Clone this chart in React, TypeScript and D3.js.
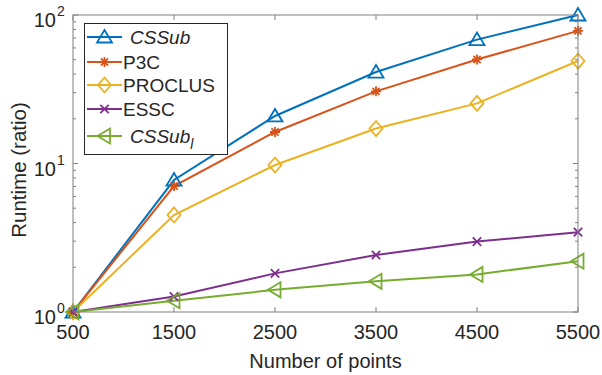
import React from "react";
import * as d3 from "d3";

const xValues = [500, 1500, 2500, 3500, 4500, 5500];
const xTickLabels = ["500", "1500", "2500", "3500", "4500", "5500"];
const yTickExponents = [0, 1, 2];

const seriesNames = ["CSSub", "P3C", "PROCLUS", "ESSC", "CSSub_l"];
const cssub = [1, 7.74, 20.9, 41.3, 68.3, 100];
const p3c = [1, 7.05, 16.3, 30.6, 50.2, 78.2];
const proclus = [1, 4.5, 9.77, 17.2, 25.4, 49];
const essc = [1, 1.27, 1.82, 2.42, 2.98, 3.45];
const cssubL = [1, 1.19, 1.41, 1.61, 1.79, 2.2];

const seriesValues = [cssub, p3c, proclus, essc, cssubL];
const colors = ["#0072BD", "#D95319", "#EDB120", "#7E2F8E", "#77AC30"];
const markers = ["triUp", "asterisk", "diamond", "cross", "triLeft"];

const W = 602;
const H = 375;
const L = 73;
const R = 578;
const T = 15;
const B = 312;
const FONT = "'Liberation Sans', Arial, Helvetica, sans-serif";
const TXT = "#262626";
const AX = "#808080";

function Marker({ kind, x, y, color }: { kind: string; x: number; y: number; color: string }) {
  const sw = 1.8;
  if (kind === "triUp") {
    return <path d={`M${x - 7.5},${y + 5.5}L${x + 7.5},${y + 5.5}L${x},${y - 7}Z`} fill="none" stroke={color} strokeWidth={sw} />;
  }
  if (kind === "triLeft") {
    return <path d={`M${x - 7},${y}L${x + 5.5},${y - 7.5}L${x + 5.5},${y + 7.5}Z`} fill="none" stroke={color} strokeWidth={sw} />;
  }
  if (kind === "diamond") {
    return <path d={`M${x},${y - 7.5}L${x + 6.5},${y}L${x},${y + 7.5}L${x - 6.5},${y}Z`} fill="none" stroke={color} strokeWidth={sw} />;
  }
  if (kind === "asterisk") {
    const r = 5;
    const d = r * 0.72;
    return (
      <path
        d={`M${x - r},${y}L${x + r},${y}M${x},${y - r}L${x},${y + r}M${x - d},${y - d}L${x + d},${y + d}M${x - d},${y + d}L${x + d},${y - d}`}
        stroke={color}
        strokeWidth={sw}
      />
    );
  }
  const r = 4.2;
  return <path d={`M${x - r},${y - r}L${x + r},${y + r}M${x - r},${y + r}L${x + r},${y - r}`} stroke={color} strokeWidth={sw} />;
}

export default function App() {
  const x = d3.scaleLinear().domain([500, 5500]).range([L, R]);
  const y = d3.scaleLog().domain([1, 100]).range([B, T]);
  const line = d3
    .line<number>()
    .x((_, i) => x(xValues[i]))
    .y((v) => y(v));

  const minor: number[] = [];
  for (let e = 0; e < 2; e++) {
    for (let m = 2; m <= 9; m++) minor.push(m * Math.pow(10, e));
  }

  const legendRows = [37, 62, 85, 109, 136];

  return (
    <svg width={W} height={H} style={{ position: "absolute", left: 0, top: 0, background: "#fff" }} fontFamily={FONT}>
      <rect x={0} y={0} width={W} height={H} fill="#fff" />
      {xValues.map((v) => (
        <g key={"xt" + v}>
          <line x1={x(v)} x2={x(v)} y1={B} y2={B - 5} stroke={AX} />
          <line x1={x(v)} x2={x(v)} y1={T} y2={T + 5} stroke={AX} />
        </g>
      ))}
      {yTickExponents.map((e) => (
        <g key={"yt" + e}>
          <line x1={L} x2={L + 5} y1={y(Math.pow(10, e))} y2={y(Math.pow(10, e))} stroke={AX} />
          <line x1={R} x2={R - 5} y1={y(Math.pow(10, e))} y2={y(Math.pow(10, e))} stroke={AX} />
        </g>
      ))}
      {minor.map((v) => (
        <g key={"ym" + v}>
          <line x1={L} x2={L + 3} y1={y(v)} y2={y(v)} stroke={AX} />
          <line x1={R} x2={R - 3} y1={y(v)} y2={y(v)} stroke={AX} />
        </g>
      ))}
      {seriesValues.map((vals, si) => (
        <path key={"l" + si} d={line(vals) || ""} fill="none" stroke={colors[si]} strokeWidth={2} />
      ))}
      {seriesValues.map((vals, si) =>
        vals.map((v, i) => <Marker key={"m" + si + "-" + i} kind={markers[si]} x={x(xValues[i])} y={y(v)} color={colors[si]} />)
      )}
      <rect x={L} y={T} width={R - L} height={B - T} fill="none" stroke={AX} strokeWidth={1} />
      {xValues.map((v, i) => (
        <text key={"xl" + v} x={x(v)} y={339} textAnchor="middle" fontSize={20} fill={TXT}>
          {xTickLabels[i]}
        </text>
      ))}
      {yTickExponents.map((e) => {
        const ty = y(Math.pow(10, e));
        return (
          <g key={"yl" + e}>
            <text x={56} y={ty + 12} textAnchor="end" fontSize={20} fill={TXT}>
              10
            </text>
            <text x={57} y={ty + 1} fontSize={14} fill={TXT}>
              {String(e)}
            </text>
          </g>
        );
      })}
      <text x={325.5} y={368} textAnchor="middle" fontSize={20} fill={TXT}>
        Number of points
      </text>
      <text transform="translate(26,170) rotate(-90)" textAnchor="middle" fontSize={20.5} fill={TXT}>
        Runtime (ratio)
      </text>
      <rect x={84.5} y={23.5} width={143} height={131} fill="#fff" stroke={TXT} strokeWidth={1} />
      {seriesNames.map((name, si) => {
        const ly = legendRows[si];
        const italic = si === 0 || si === 4;
        return (
          <g key={"lg" + si}>
            <line x1={87} x2={122} y1={ly} y2={ly} stroke={colors[si]} strokeWidth={2} />
            <Marker kind={markers[si]} x={104.5} y={ly} color={colors[si]} />
            {si === 4 ? (
              <text x={130} y={ly + 7} fontSize={19} fill={TXT} fontStyle="italic">
                CSSub
                <tspan fontSize={14} dy={6}>
                  l
                </tspan>
              </text>
            ) : (
              <text x={italic ? 130 : 123} y={ly + 7} fontSize={19} fill={TXT} fontStyle={italic ? "italic" : "normal"}>
                {name}
              </text>
            )}
          </g>
        );
      })}
    </svg>
  );
}
